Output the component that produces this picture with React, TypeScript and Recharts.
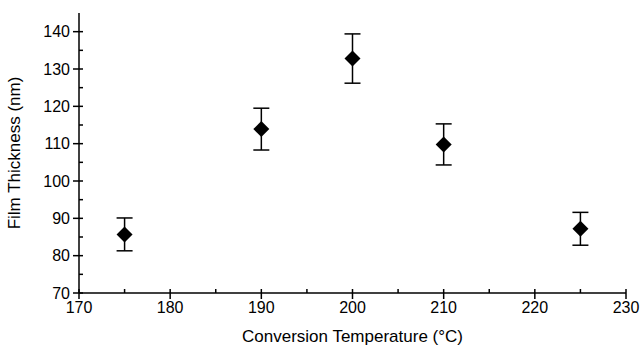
import { ErrorBar, Scatter, ScatterChart, XAxis, YAxis, Label } from "recharts";

const temperatures = [175, 190, 200, 210, 225];
const thickness = [85.7, 113.9, 132.8, 109.8, 87.2];
const errors = [4.4, 5.6, 6.6, 5.5, 4.4];

const xTicks = [170, 175, 180, 185, 190, 195, 200, 205, 210, 215, 220, 225, 230];
const yTicks = [70, 75, 80, 85, 90, 95, 100, 105, 110, 115, 120, 125, 130, 135, 140];

const data = temperatures.map((t, i) => ({ t, thickness: thickness[i], err: errors[i] }));

const FONT = "'Liberation Sans', Arial, sans-serif";
const TICK_SIZE = 6;
const TICK_MARGIN = 3;
const INNER = 4;

function XTick(props: any) {
  const { x, y, payload } = props;
  const axisY = y - TICK_SIZE - TICK_MARGIN;
  const major = payload.value % 10 === 0;
  return (
    <g>
      <line
        x1={x}
        x2={x}
        y1={major ? axisY + TICK_SIZE : axisY}
        y2={axisY - INNER}
        stroke="#000"
        strokeWidth={1.5}
      />
      {major && (
        <text x={x} y={y} dy="0.71em" textAnchor="middle" fontSize={16} fontFamily={FONT} fill="#000">
          {payload.value}
        </text>
      )}
    </g>
  );
}

function YTick(props: any) {
  const { x, y, payload } = props;
  const axisX = x + TICK_SIZE + TICK_MARGIN;
  const major = payload.value % 10 === 0;
  return (
    <g>
      <line
        x1={major ? axisX - TICK_SIZE : axisX}
        x2={axisX + INNER}
        y1={y}
        y2={y}
        stroke="#000"
        strokeWidth={1.5}
      />
      {major && (
        <text x={x} y={y} dy="0.355em" textAnchor="end" fontSize={16} fontFamily={FONT} fill="#000">
          {payload.value}
        </text>
      )}
    </g>
  );
}

function Diamond(props: any) {
  const { cx, cy } = props;
  if (cx == null || cy == null) return null;
  const r = 8;
  return <path d={`M${cx},${cy - r}L${cx + r},${cy}L${cx},${cy + r}L${cx - r},${cy}Z`} fill="#000" />;
}

export default function App() {
  return (
    <div style={{ position: "absolute", left: 0, top: 0, background: "#fff" }}>
      <ScatterChart width={642} height={356} margin={{ top: 13, right: 16, bottom: 0, left: 0 }}>
        <XAxis
          type="number"
          dataKey="t"
          domain={[170, 230]}
          ticks={xTicks}
          interval={0}
          height={63}
          tickSize={TICK_SIZE}
          tickMargin={TICK_MARGIN}
          tickLine={false}
          tick={<XTick />}
          axisLine={{ stroke: "#000", strokeWidth: 1.5 }}
        >
          <Label
            value="Conversion Temperature (°C)"
            position="insideBottom"
            offset={14}
            style={{ fontSize: 17, fontFamily: FONT, fill: "#000" }}
          />
        </XAxis>
        <YAxis
          type="number"
          dataKey="thickness"
          domain={[70, 145]}
          ticks={yTicks}
          interval={0}
          width={79}
          tickSize={TICK_SIZE}
          tickMargin={TICK_MARGIN}
          tickLine={false}
          tick={<YTick />}
          axisLine={{ stroke: "#000", strokeWidth: 1.5 }}
        >
          <Label
            value="Film Thickness (nm)"
            angle={-90}
            position="insideLeft"
            offset={14}
            style={{ fontSize: 17, fontFamily: FONT, fill: "#000", textAnchor: "middle" }}
          />
        </YAxis>
        <Scatter data={data} shape={<Diamond />} isAnimationActive={false}>
          <ErrorBar dataKey="err" direction="y" width={8} stroke="#000" strokeWidth={1.5} />
        </Scatter>
      </ScatterChart>
    </div>
  );
}
